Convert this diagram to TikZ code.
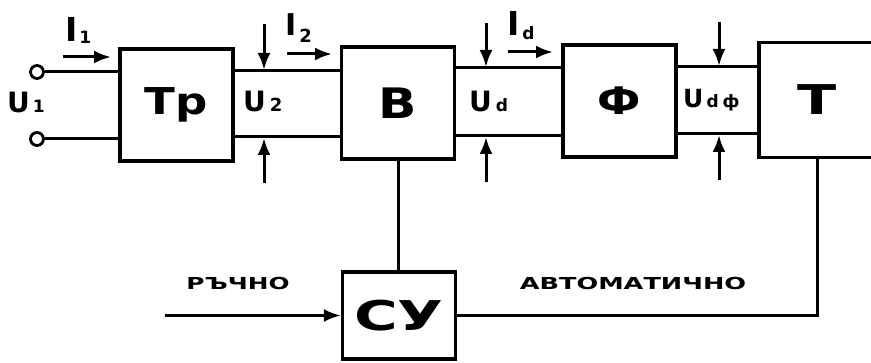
\documentclass[tikz,border=0pt]{standalone}
\usepackage{fontspec}
\usepackage{graphicx}
\setmainfont{DejaVu Sans}
\usetikzlibrary{arrows.meta}
\begin{document}
\begin{tikzpicture}[x=1pt,y=-1pt,
  blk/.style={draw, line width=3.2pt, minimum width=113pt, minimum height=112pt, inner sep=0pt, font=\bfseries},
  wire/.style={line width=3pt},
  arr/.style={wire, -{Latex[length=17pt,width=13pt]}},
  term/.style={circle, draw, line width=2.8pt, minimum size=13pt, inner sep=0pt, fill=white},
  lab/.style={inner sep=0pt, anchor=base west, font=\bfseries},
  caplab/.style={inner sep=0pt, anchor=base, font=\bfseries\fontsize{16.5}{16.5}\selectfont}]
\useasboundingbox (0,0) rectangle (871,363);

% blocks
\node[blk] (Tp) at (176.5,105) {\fontsize{37}{37}\selectfont\scalebox{1.22}[1]{Тр}};
\node[blk] (B)  at (398,103) {\fontsize{42}{42}\selectfont\scalebox{1.2}[1]{В}};
\node[blk] (F)  at (619.5,101) {\fontsize{38}{38}\selectfont\scalebox{1.15}[1]{Ф}};
\node[blk, draw=none] (T) at (817,100) {\fontsize{41}{41}\selectfont\scalebox{1.4}[1]{Т}};
\draw[line width=3.2pt] (T.north east) -- (T.north west) -- (T.south west) -- (T.south east);
\node[blk, minimum height=87pt] (SU) at (399,315.5) {\fontsize{41}{41}\selectfont\scalebox{1.45}[1]{СУ}};

% input terminals
\node[term] (t1) at (37,72) {};
\node[term] (t2) at (37,139) {};
\draw[wire] (t1.east) -- (t1 -| Tp.west);
\draw[wire] (t2.east) -- (t2 -| Tp.west);

% link lines
\coordinate (y1) at (0,71);  \coordinate (y2) at (0,137);
\coordinate (y3) at (0,68);  \coordinate (y4) at (0,136);
\coordinate (y5) at (0,67);  \coordinate (y6) at (0,134);
\draw[wire] (Tp.east |- y1) -- (B.west |- y1);
\draw[wire] (Tp.east |- y2) -- (B.west |- y2);
\draw[wire] (B.east |- y3) -- (F.west |- y3);
\draw[wire] (B.east |- y4) -- (F.west |- y4);
\draw[wire] (F.east |- y5) -- (T.west |- y5);
\draw[wire] (F.east |- y6) -- (T.west |- y6);

% voltage arrows
\coordinate (a1s) at (264,24);  \coordinate (a1e) at (264,70);
\coordinate (a2s) at (264,183); \coordinate (a2e) at (264,138);
\coordinate (a3s) at (486,23);  \coordinate (a3e) at (486,67);
\coordinate (a4s) at (486,182); \coordinate (a4e) at (486,137);
\coordinate (a5s) at (719,22);  \coordinate (a5e) at (719,66);
\coordinate (a6s) at (719,180); \coordinate (a6e) at (719,135);
\draw[arr] (a1s) -- (a1e);
\draw[arr] (a2s) -- (a2e);
\draw[arr] (a3s) -- (a3e);
\draw[arr] (a4s) -- (a4e);
\draw[arr] (a5s) -- (a5e);
\draw[arr] (a6s) -- (a6e);

% current arrows
\coordinate (i1s) at (63,57);  \coordinate (i1e) at (111,57);
\coordinate (i2s) at (287,54); \coordinate (i2e) at (332,54);
\coordinate (i3s) at (508,52); \coordinate (i3e) at (553,52);
\draw[arr] (i1s) -- (i1e);
\draw[arr] (i2s) -- (i2e);
\draw[arr] (i3s) -- (i3e);

% control
\draw[wire] (B.south) -- (B.south |- SU.north);
\draw[wire] (SU.east) -- (SU.east -| T.south) -- (T.south);
\coordinate (man) at (165,315.5);
\draw[arr] (man) -- (SU.west);

% labels
\node[lab] (lU1) at (7,113) {{\fontsize{28}{28}\selectfont U}\hspace{3pt}{\fontsize{17}{17}\selectfont 1}};
\node[lab] (lU2) at (243,112) {{\fontsize{28}{28}\selectfont U}\hspace{4pt}{\fontsize{18}{18}\selectfont 2}};
\node[lab] (lUd) at (469,112) {{\fontsize{28}{28}\selectfont U}\hspace{4pt}{\fontsize{17}{17}\selectfont d}};
\node[lab] (lUdf) at (683,108) {{\fontsize{25}{25}\selectfont U}\hspace{3pt}{\fontsize{17}{17}\selectfont d\hspace{4pt}ф}};
\node[lab] (lI1) at (65,42) {{\fontsize{33}{33}\selectfont I}\hspace{2pt}\raisebox{-2pt}{\fontsize{17}{17}\selectfont 1}};
\node[lab] (lI2) at (285,36) {{\fontsize{30}{30}\selectfont I}\hspace{3pt}\raisebox{-7pt}{\fontsize{18}{18}\selectfont 2}};
\node[lab] (lId) at (507,36) {{\fontsize{33}{33}\selectfont I}\hspace{3pt}\raisebox{-4pt}{\fontsize{17}{17}\selectfont d}};
\node[caplab] (lman) at (238,290) {\scalebox{1.5}[1]{РЪЧНО}};
\node[caplab] (lauto) at (633,290) {\scalebox{1.55}[1]{АВТОМАТИЧНО}};
\end{tikzpicture}
\end{document}
